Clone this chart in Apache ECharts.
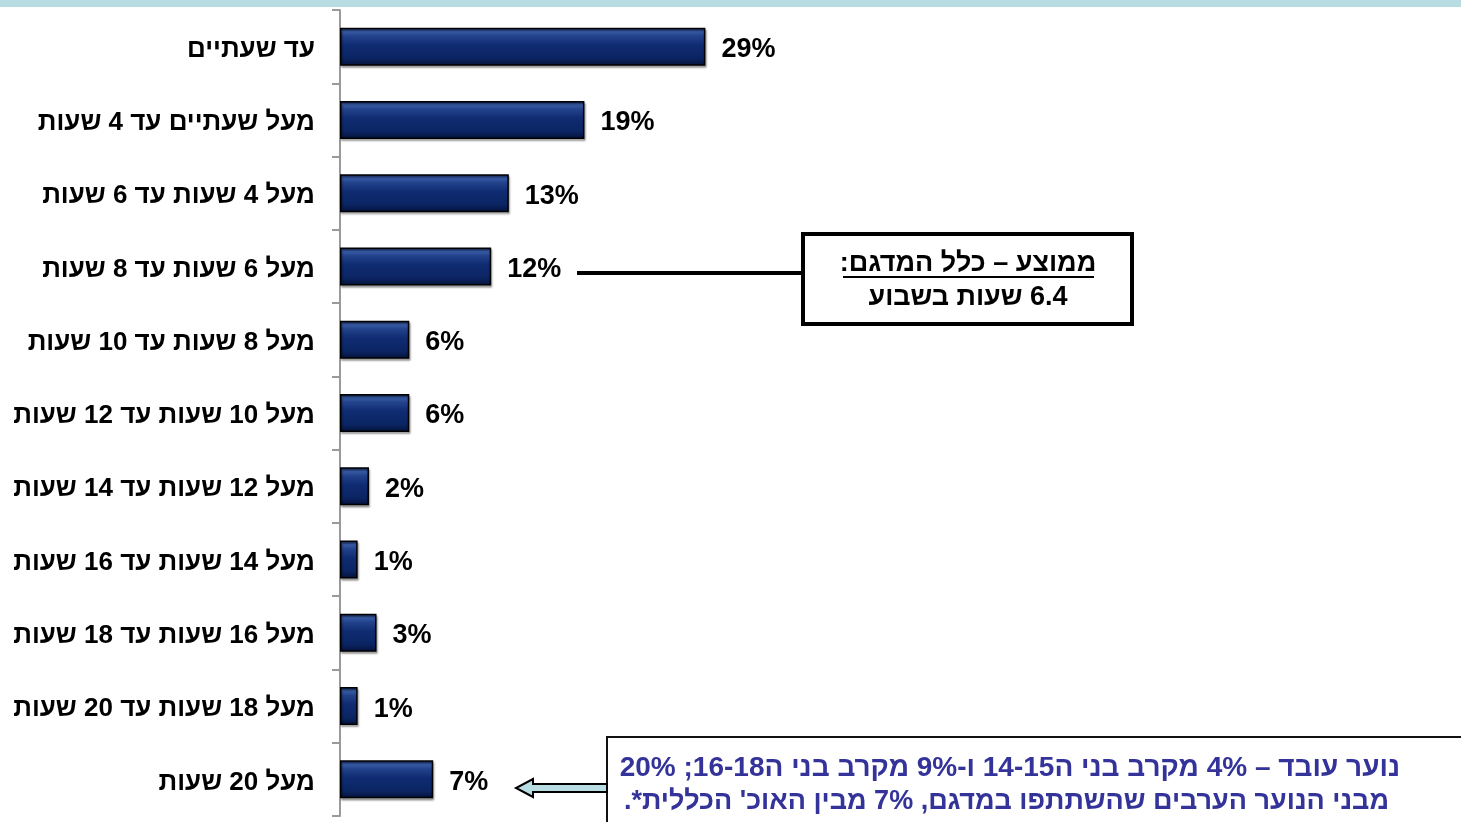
<!DOCTYPE html>
<html>
<head>
<meta charset="utf-8">
<script src="https://cdn.jsdelivr.net/npm/echarts@6/dist/echarts.min.js"></script>
<style>
html,body{margin:0;padding:0;background:#fff;}
#chart{width:1461px;height:822px;}
</style>
</head>
<body>
<div id="chart" dir="rtl"></div>
<script>
// Data
const categories = [
  'עד שעתיים',
  'מעל שעתיים עד 4 שעות',
  'מעל 4 שעות עד 6 שעות',
  'מעל 6 שעות עד 8 שעות',
  'מעל 8 שעות עד 10 שעות',
  'מעל 10 שעות עד 12 שעות',
  'מעל 12 שעות עד 14 שעות',
  'מעל 14 שעות עד 16 שעות',
  'מעל 16 שעות עד 18 שעות',
  'מעל 18 שעות עד 20 שעות',
  'מעל 20 שעות'
];
const values = [29, 19.4, 13.4, 12, 5.5, 5.5, 2.3, 1.4, 2.9, 1.4, 7.4];
const calloutLines = ['ממוצע – כלל המדגם:', '6.4 שעות בשבוע'];
const noteLines = [
  'נוער עובד – 4% מקרב בני ה14-15 ו-9% מקרב בני ה16-18; 20%',
  'מבני הנוער הערבים שהשתתפו במדגם, 7% מבין האוכ\' הכללית*.'
];

const FONT = "'Liberation Sans', Arial, 'DejaVu Sans', sans-serif";
const chart = echarts.init(document.getElementById('chart'), null, {renderer: 'canvas'});

const barColor = new echarts.graphic.LinearGradient(0, 0, 0, 1, [
  {offset: 0, color: '#08194d'},
  {offset: 0.1, color: '#3a5ea8'},
  {offset: 0.22, color: '#22438c'},
  {offset: 0.45, color: '#102c72'},
  {offset: 0.8, color: '#0b2563'},
  {offset: 1, color: '#04113a'}
]);

const option = {
  animation: false,
  textStyle: {fontFamily: FONT},
  grid: {left: 340, right: 113, top: 10, bottom: 6, containLabel: false},
  xAxis: {
    type: 'value', min: 0, max: 80,
    show: false
  },
  yAxis: {
    type: 'category',
    data: categories,
    inverse: true,
    axisLine: {show: true, lineStyle: {color: '#9a9a9a', width: 2}},
    axisTick: {show: true, length: 8, lineStyle: {color: '#9a9a9a', width: 2}},
    axisLabel: {
      margin: 25, color: '#000',
      formatter: v => '{a|' + v + '}',
      rich: {a: {fontSize: 26, fontWeight: 'bold', color: '#000', fontFamily: FONT, padding: [6, 0, 0, 0]}}
    },
    splitLine: {show: false}
  },
  series: [{
    type: 'bar',
    data: values,
    barWidth: 38,
    itemStyle: {
      color: barColor,
      borderColor: '#000',
      borderWidth: 1.5,
      shadowColor: 'rgba(0,0,0,0.35)',
      shadowOffsetY: 2,
      shadowOffsetX: 1,
      shadowBlur: 2
    },
    label: {
      show: true,
      position: 'right',
      distance: 16,
      offset: [0, 3],
      fontSize: 27,
      fontWeight: 'bold',
      color: '#000',
      fontFamily: FONT,
      formatter: p => Math.round(p.value) + '%'
    }
  }],
  graphic: [
    {type: 'rect', left: 0, top: 0, shape: {width: 1461, height: 7}, style: {fill: '#b7dde3'}, silent: true},
    // connector line
    {type: 'line', shape: {x1: 577, y1: 273, x2: 803, y2: 273}, style: {stroke: '#000', lineWidth: 4}},
    // callout box
    {type: 'rect', shape: {x: 803, y: 234, width: 329, height: 90}, style: {fill: '#fff', stroke: '#000', lineWidth: 4}},
    {type: 'text', x: 968, y: 264, style: {text: calloutLines[0], font: 'bold 27px ' + FONT, fill: '#000', align: 'center', verticalAlign: 'middle'}},
    {type: 'line', shape: {x1: 843, y1: 277, x2: 1094, y2: 277}, style: {stroke: '#000', lineWidth: 2}},
    {type: 'text', x: 968, y: 298, style: {text: calloutLines[1], font: 'bold 27px ' + FONT, fill: '#000', align: 'center', verticalAlign: 'middle'}},
    // note box
    {type: 'rect', shape: {x: 607, y: 737, width: 870, height: 100}, style: {fill: '#fff', stroke: '#111', lineWidth: 2}},
    {type: 'text', x: 1400, y: 768, style: {text: noteLines[0], font: 'bold 28px ' + FONT, fill: '#333399', align: 'right', verticalAlign: 'middle'}},
    {type: 'text', x: 1389, y: 802, style: {text: noteLines[1], font: 'bold 27px ' + FONT, fill: '#333399', align: 'right', verticalAlign: 'middle'}},
    // hollow arrow
    {type: 'polygon', shape: {points: [[607, 784], [533, 784], [533, 779], [516, 788], [533, 797], [533, 792], [607, 792]]},
     style: {fill: '#b7dde3', stroke: '#000', lineWidth: 2}}
  ]
};
chart.setOption(option);
</script>
</body>
</html>
